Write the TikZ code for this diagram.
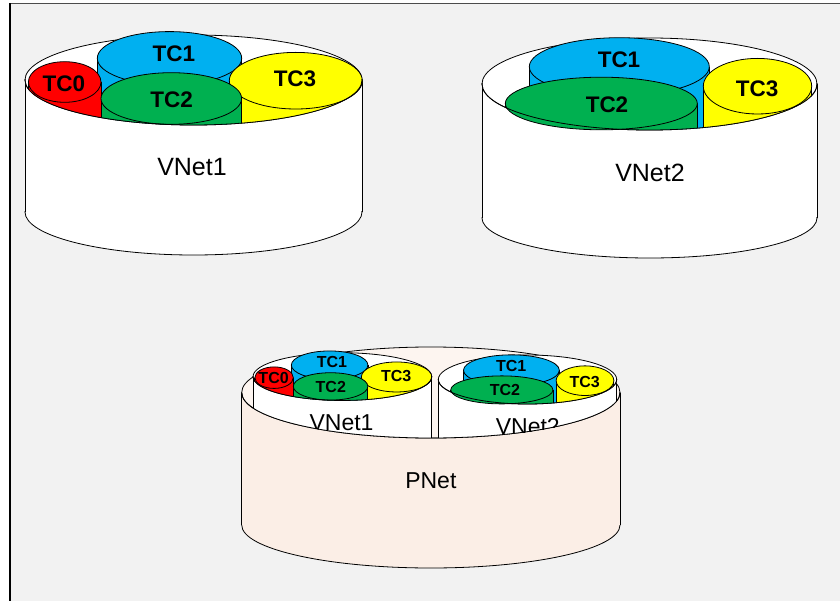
\documentclass[tikz,border=0pt]{standalone}
\usepackage{fontspec}
\setmainfont{Liberation Sans}
\definecolor{bg}{HTML}{F2F2F2}
\definecolor{tcred}{HTML}{FF0000}
\definecolor{tcblue}{HTML}{00B0F0}
\definecolor{tcgreen}{HTML}{00B050}
\definecolor{tcyellow}{HTML}{FFFF00}
\definecolor{peach}{HTML}{FBEEE6}
\definecolor{peachtop}{HTML}{FDF5F0}
\tikzset{outl/.style={draw=black,line width=0.8pt},
         lbl/.style={inner sep=0pt,outer sep=0pt}}
% one traffic-class cylinder: cx cy rx ry colour label lx ly
\newcommand{\tcyl}[8]{%
  \begin{scope}
    \clip (0,0) ellipse[x radius=\cR, y radius=\cRY];
    \fill[#5] ({#1-#3},#2) rectangle ({#1+#3},{#2+300});
    \draw[outl] ({#1-#3},#2) -- ({#1-#3},{#2+300}) ({#1+#3},#2) -- ({#1+#3},{#2+300});
  \end{scope}
  \draw[outl,fill=#5] (#1,#2) ellipse[x radius=#3, y radius=#4];
  \node[lbl,font=\tcfont] (\pfx#6) at (#7,#8) {#6};
}
% body of a can without its top: R RY H RYB fill
\newcommand{\cyl}[5]{%
  \fill[#5] (-#1,0) rectangle (#1,#3);
  \fill[#5] (0,#3) ellipse[x radius=#1,y radius=#4];
  \begin{scope}
    \clip (-#1-3,#3) rectangle (#1+3,#3+#4+3);
    \draw[outl] (0,#3) ellipse[x radius=#1,y radius=#4];
  \end{scope}
  \draw[outl] (-#1,0) -- (-#1,#3) (#1,0) -- (#1,#3);
}
% lower half of a top ellipse: R RY
\newcommand{\lowerarc}[2]{%
  \begin{scope}
    \clip (-#1-3,0) rectangle (#1+3,#2+3);
    \draw[outl] (0,0) ellipse[x radius=#1,y radius=#2];
  \end{scope}
}
% VNet1: xshift yshift scale clipcode
\newcommand{\vnetone}[4]{%
  \begin{scope}
    #4
    \begin{scope}[shift={(#1,#2)},scale=#3]
      \cyl{168.5}{45}{132}{43}{white}
      \node[lbl,font=\vfont] (\pfx vlabel) at (-1.5,87) {VNet1};
    \end{scope}
  \end{scope}
  \begin{scope}[shift={(#1,#2)},scale=#3]
    \def\cR{168.5}\def\cRY{45}
    \draw[outl,fill=white] (0,0) ellipse[x radius=168.5,y radius=45];
    \tcyl{-24}{-21.7}{72.2}{26.7}{tcblue}{TC1}{-19.5}{-26.7}
    \tcyl{-128.8}{2}{36.3}{20.3}{tcred}{TC0}{-129.7}{3.3}
    \tcyl{102.3}{0.7}{66.5}{28.3}{tcyellow}{TC3}{101.5}{-1.7}
    \tcyl{-22.2}{18.5}{70.3}{25.8}{tcgreen}{TC2}{-21.8}{20}
    \lowerarc{168.5}{45}
  \end{scope}
}
% VNet2: xshift yshift scale clipcode
\newcommand{\vnettwo}[4]{%
  \begin{scope}
    #4
    \begin{scope}[shift={(#1,#2)},scale=#3]
      \cyl{167.5}{46}{134}{40}{white}
      \node[lbl,font=\vfont] (\pfx vlabel) at (0.5,89) {VNet2};
    \end{scope}
  \end{scope}
  \begin{scope}[shift={(#1,#2)},scale=#3]
    \def\cR{167.5}\def\cRY{46}
    \draw[outl,fill=white] (0,0) ellipse[x radius=167.5,y radius=46];
    \tcyl{-30.2}{-17.3}{90}{29}{tcblue}{TC1}{-30.5}{-24.7}
    \tcyl{108}{2.2}{54.2}{27.8}{tcyellow}{TC3}{107.5}{4.3}
    \tcyl{-48.2}{19.5}{96}{26.3}{tcgreen}{TC2}{-42.5}{20.3}
    \lowerarc{167.5}{46}
  \end{scope}
}
\begin{document}
\begin{tikzpicture}[x=1pt,y=-1pt]
\useasboundingbox (0,0) rectangle (840,601);
\fill[bg] (10,3.5) rectangle (840,601);
\draw[line width=1.2pt,black!70] (10,3.5) -- (840,3.5);
\draw[line width=1.2pt] (10,3.5) -- (10,601);
% big VNets
\def\tcfont{\fontsize{22.5}{24}\selectfont\bfseries}
\def\vfont{\fontsize{25}{28}\selectfont}
\def\pfx{a}
\vnetone{193.5}{80}{1}{}
\def\pfx{b}
\vnettwo{649.5}{84}{1}{}
% PNet
\begin{scope}[shift={(430.85,392.5)}]
  \cyl{189.15}{45.5}{132.5}{43}{peach}
  \draw[outl,fill=peachtop] (0,0) ellipse[x radius=189.15,y radius=45.5];
  \node[lbl,font=\fontsize{23}{26}\selectfont] (pnet) at (0,88.5) {PNet};
\end{scope}
\def\tcfont{\fontsize{16}{18}\selectfont\bfseries}
\def\vfont{\fontsize{23}{26}\selectfont}
\def\pfx{c}
\vnetone{342.35}{376.6}{0.53}{\clip (430.85,392.5) ellipse[x radius=189.15,y radius=45.5];}
\def\pfx{d}
\vnettwo{527.5}{379.5}{0.5325}{\clip (430.85,392.5) ellipse[x radius=189.15,y radius=45.5];}
\begin{scope}[shift={(430.85,392.5)}]
  \lowerarc{189.15}{45.5}
\end{scope}
\end{tikzpicture}
\end{document}
